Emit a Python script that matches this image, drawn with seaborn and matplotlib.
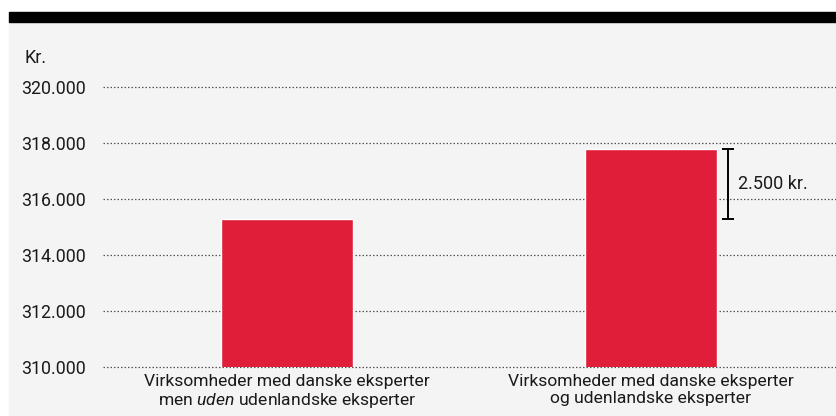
import matplotlib
matplotlib.use("Agg")
import matplotlib.pyplot as plt
import matplotlib.patches as mpatches
import numpy as np
import pandas as pd
import seaborn as sns


categories = [
    "Virksomheder med danske eksperter\nmen $\\it{uden}$ udenlandske eksperter",
    "Virksomheder med danske eksperter\nog udenlandske eksperter",
]
values = [315270, 317800]
y_ticks = [310000, 312000, 314000, 316000, 318000, 320000]
diff_label = "2.500 kr."
unit_label = "Kr."

RED = "#e01e3a"
BG = "#f4f4f4"

sns.set_theme(style="white")
plt.rcParams["font.family"] = ["Roboto", "DejaVu Sans"]
plt.rcParams["mathtext.fontset"] = "custom"
plt.rcParams["mathtext.rm"] = "Roboto"
plt.rcParams["mathtext.it"] = "Roboto:italic"


def fmt_thousands(v):
    return f"{int(v):,}".replace(",", ".")


df = pd.DataFrame({"group": categories, "value": values})

fig = plt.figure(figsize=(8.37, 4.16), dpi=100)
fig.patch.set_facecolor("white")

# panel background and black top band
fig.patches.append(mpatches.Rectangle((9 / 837, 0), 1, (416 - 22) / 416,
                                      transform=fig.transFigure, color=BG, zorder=-10))
fig.patches.append(mpatches.Rectangle((9 / 837, (416 - 22) / 416), 1, 10 / 416,
                                      transform=fig.transFigure, color="black", zorder=-10))

ax = fig.add_axes([103 / 837, (416 - 367) / 416, 1 - 103 / 837, (367 - 87) / 416])
ax.set_facecolor("none")

sns.barplot(data=df, x="group", y="value", color=RED, width=0.363,
            saturation=1, ax=ax, zorder=3)
ax.set_ylim(310000, 320000)
ax.set_xlim(-0.505, 1.512)

for t in y_ticks:
    ax.axhline(t, color="#555555", linestyle=(0, (1.2, 1.6)), linewidth=0.9,
               zorder=1, clip_on=False)

ax.set_yticks(y_ticks)
ax.set_yticklabels([fmt_thousands(t) for t in y_ticks], fontsize=12.8, color="#1a1a1a")
ax.set_xticks(range(len(categories)))
ax.set_xticklabels(categories, fontsize=12.6, color="#1a1a1a", linespacing=1.15)
ax.tick_params(axis="y", length=0, pad=12)
ax.tick_params(axis="x", length=0, pad=5)
ax.set_xlabel("")
ax.set_ylabel("")
for s in ax.spines.values():
    s.set_visible(False)

# difference bracket
lo, hi = values
ax.errorbar([1.212], [(lo + hi) / 2], yerr=[(hi - lo) / 2], color="black",
            capsize=4.5, elinewidth=1.4, capthick=1.4, zorder=4, clip_on=False)
ax.text(1.24, (lo + hi) / 2, diff_label, fontsize=13, va="center", ha="left",
        color="#1a1a1a")

fig.text(25 / 837, (416 - 58) / 416, unit_label, fontsize=13, va="center",
         ha="left", color="#1a1a1a")

fig.savefig("out.png", dpi=100, facecolor=fig.get_facecolor())
